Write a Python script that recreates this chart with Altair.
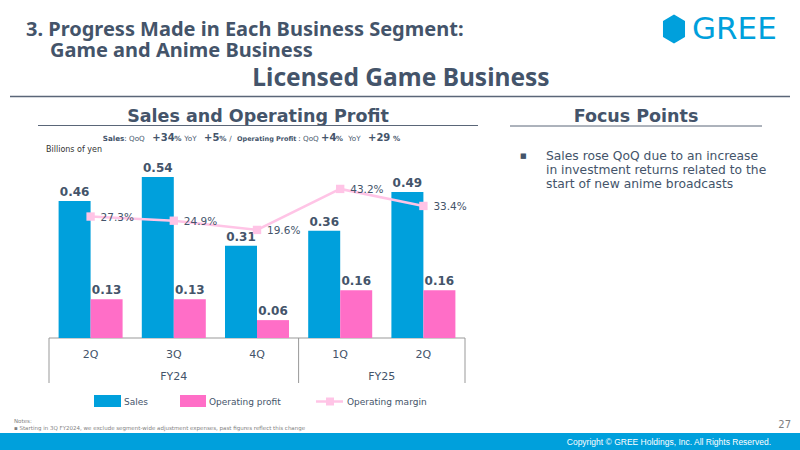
import altair as alt
import pandas as pd

# ---------------- data ----------------
quarters = ["2Q", "3Q", "4Q", "1Q", "2Q"]
fiscal = ["FY24", "FY24", "FY24", "FY25", "FY25"]
sales = [0.46, 0.54, 0.31, 0.36, 0.49]
profit = [0.13, 0.13, 0.06, 0.16, 0.16]
margin = [27.3, 24.9, 19.6, 43.2, 33.4]
series = ["Sales", "Operating profit", "Operating margin"]
focus_lines = ["Sales rose QoQ due to an increase",
               "in investment returns related to the",
               "start of new anime broadcasts"]

cats = [f"{f} {q}" for f, q in zip(fiscal, quarters)]

bars_df = pd.DataFrame({
    "cat": cats * 2,
    "series": [series[0]] * 5 + [series[1]] * 5,
    "value": sales + profit,
})
bars_df["label"] = bars_df["value"].map(lambda v: f"{v:.2f}")
line_df = pd.DataFrame({"cat": cats, "margin": margin,
                        "label": [f"{m:.1f}%" for m in margin]})
q_df = pd.DataFrame({"cat": cats, "q": quarters})

# ---------------- style ----------------
BLUE = "#00A0DC"
PINK = "#FF6EC7"
LPINK = "#FFC4E6"
DARK = "#44546A"
GRAY = "#999999"
FONT = "DejaVu Sans"
TFONT = "Noto Sans"
OX, OY = 49, 150          # plot origin in page pixels
W, H = 416, 188

xscale = alt.Scale(paddingInner=0, paddingOuter=0)


def X(**kw):
    return alt.X("cat:N", sort=cats, scale=xscale, axis=None, title=None, **kw)


def txt(s, x, y, size, color=DARK, bold=False, align="left", font=FONT,
        baseline="middle"):
    return alt.Chart(pd.DataFrame({"t": [s]})).mark_text(
        align=align, baseline=baseline, fontSize=size,
        fontWeight="bold" if bold else "normal", color=color, font=font
    ).encode(text="t:N", x=alt.value(x - OX), y=alt.value(y - OY))


def hline(x1, x2, y, color, w):
    return alt.Chart(pd.DataFrame({"a": [0]})).mark_rule(
        color=color, strokeWidth=w
    ).encode(x=alt.value(x1 - OX), x2=alt.value(x2 - OX), y=alt.value(y - OY))


def rect(x1, x2, y1, y2, color):
    return alt.Chart(pd.DataFrame({"a": [0]})).mark_rect(color=color).encode(
        x=alt.value(x1 - OX), x2=alt.value(x2 - OX),
        y=alt.value(y1 - OY), y2=alt.value(y2 - OY))


# ---------------- chart layers ----------------
bar_y = alt.Y("value:Q", scale=alt.Scale(domain=[0, 0.631], nice=False,
                                          zero=True), axis=None)
color = alt.Color("series:N", scale=alt.Scale(domain=series[:2],
                                              range=[BLUE, PINK]), legend=None)
xoff = alt.XOffset("series:N", sort=series[:2],
                   scale=alt.Scale(paddingInner=0, paddingOuter=0.3))

bars = alt.Chart(bars_df).mark_bar().encode(
    x=X(), xOffset=xoff, y=bar_y, color=color)
bar_labels = alt.Chart(bars_df).mark_text(
    baseline="alphabetic", dy=-5, fontSize=12, fontWeight="bold",
    color=DARK, font=FONT
).encode(x=X(), xOffset=xoff, y=bar_y, text="label:N")

line_y = alt.Y("margin:Q", scale=alt.Scale(domain=[-42.6, 65.6], nice=False,
                                           zero=False), axis=None)
line = alt.Chart(line_df).mark_line(color=LPINK, strokeWidth=2.5).encode(
    x=X(), y=line_y)
pts = alt.Chart(line_df).mark_point(shape="square", filled=True, size=70,
                                    color=LPINK, opacity=1).encode(
    x=X(), y=line_y)
line_labels = alt.Chart(line_df).mark_text(
    align="left", baseline="middle", dx=10, dy=1, fontSize=10.5,
    color=DARK, font=FONT
).encode(x=X(), y=line_y, text="label:N")

# category axis box
q_labels = alt.Chart(q_df).mark_text(
    baseline="middle", fontSize=11, color=DARK, font=FONT
).encode(x=X(), y=alt.value(205), text="q:N")

starts = [c for i, c in enumerate(cats) if i == 0 or fiscal[i] != fiscal[i - 1]]
rules_start = alt.Chart(pd.DataFrame({"cat": starts})).mark_rule(
    color=GRAY, strokeWidth=1).encode(
    x=X(bandPosition=0), y=alt.value(H), y2=alt.value(H + 45))
rules_end = alt.Chart(pd.DataFrame({"cat": [cats[-1]]})).mark_rule(
    color=GRAY, strokeWidth=1).encode(
    x=X(bandPosition=1), y=alt.value(H), y2=alt.value(H + 45))
base_line = alt.Chart(pd.DataFrame({"a": [0]})).mark_rule(
    color=GRAY, strokeWidth=1).encode(
    x=alt.value(0), x2=alt.value(W), y=alt.value(H), y2=alt.value(H))

fy_layers = []
for fy in dict.fromkeys(fiscal):
    members = [c for c, f in zip(cats, fiscal) if f == fy]
    n = len(members)
    if n % 2 == 1:
        cat, bp = members[n // 2], 0.5
    else:
        cat, bp = members[n // 2 - 1], 1
    fy_layers.append(
        alt.Chart(pd.DataFrame({"cat": [cat], "t": [fy]})).mark_text(
            baseline="middle", fontSize=11, color=DARK, font=FONT
        ).encode(x=X(bandPosition=bp), y=alt.value(227), text="t:N"))

# legend (manual)
leg = [
    rect(94, 121, 395, 407, BLUE),
    txt(series[0], 124, 401.5, 9, color=DARK),
    rect(180, 206, 395, 407, PINK),
    txt(series[1], 209, 401.5, 9, color=DARK),
    hline(316, 343, 401.5, LPINK, 2.5),
    alt.Chart(pd.DataFrame({"a": [0]})).mark_point(
        shape="square", filled=True, size=64, color=LPINK, opacity=1
    ).encode(x=alt.value(330 - OX), y=alt.value(401.5 - OY)),
    txt(series[2], 347, 401.5, 9, color=DARK),
]

# slide decorations
hexpath = "M0,-1 L0.76,-0.55 L0.76,0.55 L0,1 L-0.76,0.55 L-0.76,-0.55 Z"
deco = [
    txt("3. Progress Made in Each Business Segment:", 26, 29.5, 20, bold=True,
        font=TFONT),
    txt("Game and Anime Business", 50, 51, 20, bold=True, font=TFONT),
    alt.Chart(pd.DataFrame({"a": [0]})).mark_point(
        shape=hexpath, filled=True, size=841, color=BLUE, opacity=1
    ).encode(x=alt.value(674 - OX), y=alt.value(29 - OY)),
    txt("GREE", 692, 30, 31, color=BLUE, font=FONT),
    txt("Licensed Game Business", 401, 79, 24.5, bold=True, align="center",
        font=TFONT),
    hline(10, 790, 96.5, "#5A6678", 1.5),
    txt("Sales and Operating Profit", 258, 117, 17.5, bold=True,
        align="center", font=FONT),
    hline(38, 478, 125.5, "#5A6678", 1),
    txt("Focus Points", 636, 117, 17.5, bold=True, align="center", font=FONT),
    hline(510, 762, 126, "#5A6678", 1),
    txt("Billions of yen", 46, 150, 8, color="#333333"),
    txt("\u25A0", 520, 156, 7, color=DARK),
    txt("Notes:", 14, 421, 5.5, color="#7F7F7F"),
    txt("\u25AA  Starting in 3Q FY2024, we exclude segment-wide adjustment "
        "expenses, past figures reflect this change", 14, 428, 5.5,
        color="#7F7F7F"),
    txt("27", 791, 425, 10, color="#7F7F7F", align="right"),
    rect(0, 800, 433, 450, BLUE),
    txt("Copyright \u00A9 GREE Holdings, Inc. All Rights Reserved.", 771, 442,
        8.5, color="white", align="right", font="Liberation Sans"),
]
for i, s in enumerate(focus_lines):
    deco.append(txt(s, 546, 156 + i * 14.2, 12.3, color=DARK))

# subtitle with mixed sizes
sub = [
    ("Sales", 102.7, 7.2, True), (": QoQ", 124.3, 7.2, False),
    ("+34", 152.3, 10, True), ("%", 174.3, 7.2, True),
    ("YoY", 184.3, 7.2, False), ("+5", 204, 10, True),
    ("%", 219.3, 7.2, True), ("/", 229.3, 7.2, False),
    ("Operating Profit", 237, 6.5, True), (": QoQ", 298.3, 7.2, False),
    ("+4", 321, 10, True), ("%", 335.7, 7.2, True),
    ("YoY", 348.3, 7.2, False), ("+29", 368, 10, True),
    ("%", 393, 7.2, True),
]
for s, x, size, b in sub:
    deco.append(txt(s, x, 140.5, size, bold=b, baseline="alphabetic"))

chart = alt.layer(
    *deco, base_line, rules_start, rules_end, bars, bar_labels, line, pts,
    line_labels, q_labels, *fy_layers, *leg
).resolve_scale(y="independent").properties(
    width=W, height=H, autosize="none",
    padding={"left": OX, "top": OY, "right": 800 - OX - W,
             "bottom": 450 - OY - H},
    background="white",
).configure_view(stroke=None)

chart.save("out.html", embed_options={"renderer": "svg", "actions": False})
